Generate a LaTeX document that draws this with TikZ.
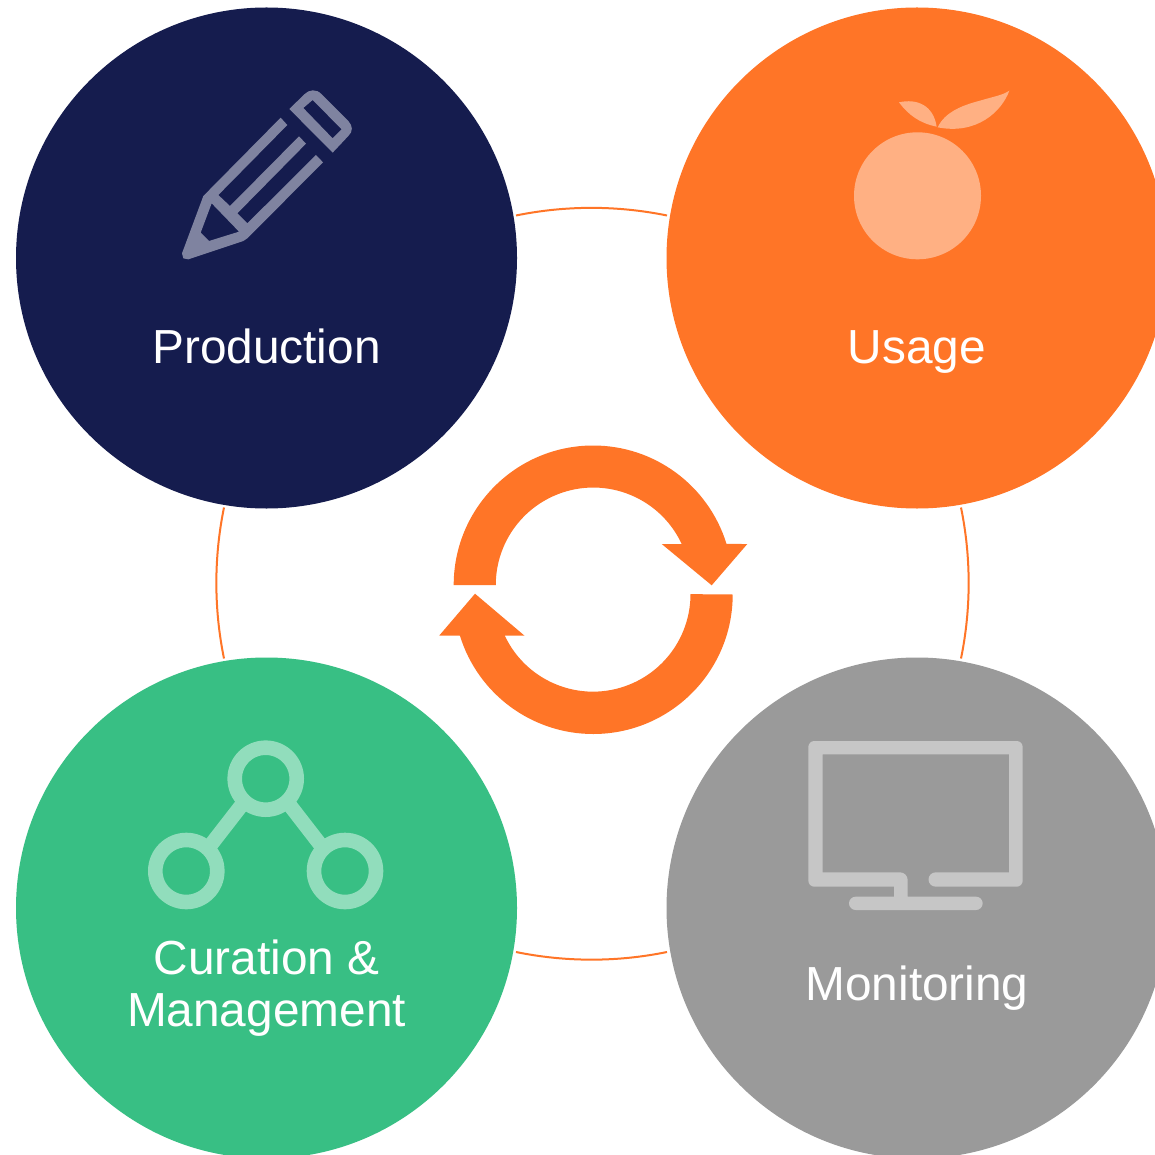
\documentclass[tikz,border=0pt]{standalone}
\usepackage{fontspec}
\setmainfont{Liberation Sans}
\definecolor{navy}{HTML}{151C4E}
\definecolor{orng}{HTML}{FF7527}
\definecolor{grn}{HTML}{38BF84}
\definecolor{gry}{HTML}{9A9A9A}
\definecolor{navyL}{HTML}{7F83A0}
\definecolor{orngL}{HTML}{FFB083}
\definecolor{grnL}{HTML}{91DDBC}
\definecolor{gryL}{HTML}{C6C6C6}
\tikzset{
  bigdisc/.style={circle,minimum size=501pt,inner sep=0pt,outer sep=0pt},
  lbl/.style={text=white,font=\fontsize{47.8}{52}\selectfont,align=center,inner sep=0pt},
  ringline/.style={draw=orng,line width=2pt},
  hub/.style={circle,draw=grnL,line width=14.6pt,minimum size=62pt,inner sep=0pt,outer sep=0pt},
  hublink/.style={draw=grnL,line width=14.6pt},
  zoomA/.style={x=0.33333pt,y=-0.33333pt}
}
\begin{document}
\begin{tikzpicture}[x=1pt,y=-1pt]
\useasboundingbox (0,0) rectangle (1155,1155);
\clip (0,0) rectangle (1155,1155);
\fill[white] (0,0) rectangle (1155,1155);
% ring segments
\coordinate (rT) at (516,215.5);
\coordinate (rR) at (961,507.5);
\coordinate (rB) at (667,952);
\coordinate (rL) at (224,658.5);
\draw[ringline] (rT) arc[start angle=101.57,end angle=78.43,radius=376.5pt];
\draw[ringline] (rR) arc[start angle=11.57,end angle=-11.57,radius=376.5pt];
\draw[ringline] (rB) arc[start angle=-78.43,end angle=-101.57,radius=376.5pt];
\draw[ringline] (rL) arc[start angle=191.57,end angle=168.43,radius=376.5pt];
% discs
\node[bigdisc,fill=navy] (prod) at (266.5,258) {};
\node[bigdisc,fill=orng] (usage) at (917,258) {};
\node[bigdisc,fill=grn] (cur) at (266.5,908) {};
\node[bigdisc,fill=gry] (mon) at (917,908) {};
% labels
\node[lbl,anchor=base] (tProd) at (266.5,363) {Production};
\node[lbl,anchor=base] (tUsage) at (917,363) {Usage};
\node[lbl,anchor=center] (tCur) at (266.5,988) {Curation \&\\Management};
\node[lbl,anchor=base] (tMon) at (917,1000) {Monitoring};
% cycle arrows
\fill[orng] (453.7,585) arc[start angle=180,end angle=17.1,radius=139.5pt]
  -- (747.3,544) -- (711.7,585.3) -- (661.7,544) -- (681.7,544)
  arc[start angle=24.9,end angle=180,radius=97.5pt] -- cycle;
\fill[orng] (732.7,594.5) arc[start angle=0,end angle=-162.9,radius=139.5pt]
  -- (439.3,635.5) -- (475,593.7) -- (524.3,635.5) -- (504.7,635.5)
  arc[start angle=205.1,end angle=360,radius=97.5pt] -- cycle;
% pencil
\begin{scope}[shift={(160,70)},zoomA]
\fill[navyL,even odd rule]
  (362,143) -- (382,165) -- (175,375) -- (210,408) -- (417,199) -- (438,221)
  -- (232,430) -- (262,460) -- (468,255) -- (489,277) -- (262,505) -- (250,513)
  -- (85,568) -- (70,565) -- (66,550) -- (130,378) -- cycle
  (155,400) -- (237,485) -- (147,513) -- (122,488) -- cycle;
\fill[navyL,even odd rule]
  (388,117) -- (433,73) .. controls (447,58) and (470,56) .. (485,73)
  -- (565,153) .. controls (579,168) and (579,185) .. (565,198) -- (518,248) -- cycle
  (430,114) -- (458,90) -- (545,178) -- (518,205) -- cycle;
\end{scope}
% apple
\fill[orngL] (917.5,195.8) circle[radius=63.5pt];
\begin{scope}[shift={(820,70)},zoomA]
\fill[orngL] (237,97) .. controls (290,85) and (340,105) .. (350,170)
  .. controls (300,160) and (265,135) .. cycle;
\fill[orngL] (353,172) .. controls (375,125) and (430,105) .. (480,92)
  .. controls (520,80) and (550,75) .. (568,62)
  .. controls (545,125) and (470,195) .. cycle;
\end{scope}
% monitor
\begin{scope}[shift={(790,725)},zoomA]
\fill[gryL] (73,48) -- (680,48) arc[start angle=90,end angle=0,radius=6pt]
  -- (698,467) arc[start angle=0,end angle=-90,radius=6pt]
  -- (437,485) arc[start angle=270,end angle=90,radius=7.17pt]
  -- (657,442) -- (657,88) -- (98,88) -- (98,442) -- (330,442)
  arc[start angle=90,end angle=0,radius=7.67pt]
  -- (353,515) -- (558,515) arc[start angle=90,end angle=-90,radius=6.67pt]
  -- (197,555) arc[start angle=270,end angle=90,radius=6.67pt]
  -- (312,515) -- (312,485) -- (73,485)
  arc[start angle=270,end angle=180,radius=6pt]
  -- (55,66) arc[start angle=180,end angle=90,radius=6pt] -- cycle;
\end{scope}
% network
\node[hub] (n1) at (265.7,778.7) {};
\node[hub] (n2) at (186.3,871) {};
\node[hub] (n3) at (345,871) {};
\draw[hublink] (n1.227) -- (n2.46);
\draw[hublink] (n1.313) -- (n3.134);
\end{tikzpicture}
\end{document}
